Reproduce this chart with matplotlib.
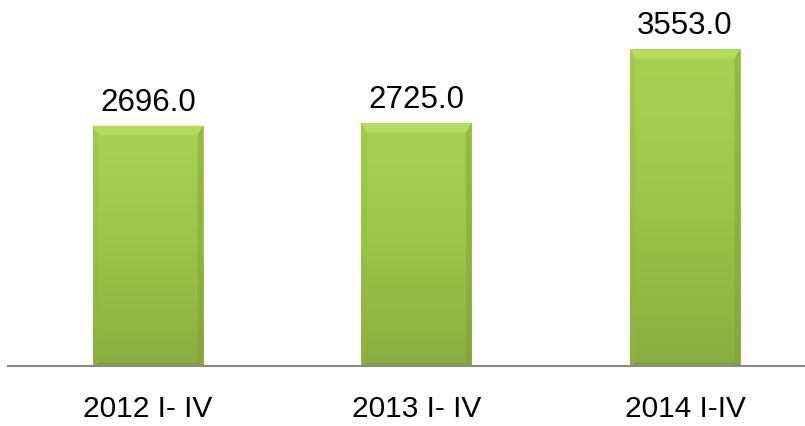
import numpy as np
import matplotlib
matplotlib.use("Agg")
import matplotlib.pyplot as plt
from matplotlib.colors import LinearSegmentedColormap
from matplotlib.patches import Polygon

# Data
categories = ["2012 I- IV", "2013 I- IV", "2014 I-IV"]
values = [2696.0, 2725.0, 3553.0]

plt.rcParams['font.family'] = ['Liberation Sans', 'DejaVu Sans']

fig = plt.figure(figsize=(8.05, 4.27), dpi=100)
ax = fig.add_axes([8 / 805, 60 / 427, 797 / 805, 367 / 427])

YMAX = 4118
x = np.arange(len(categories))
width = 0.41
bars = ax.bar(x, values, width=width, color="none", edgecolor="none", zorder=2)

# vertical gradient for the bar face
grad_cmap = LinearSegmentedColormap.from_list(
    "green", ["#a8d350", "#9cc54a", "#8cac40"])
grad = np.linspace(0, 1, 256).reshape(-1, 1)

for b in bars:
    x0, w, h = b.get_x(), b.get_width(), b.get_height()
    im = ax.imshow(grad, cmap=grad_cmap, aspect="auto",
                   extent=[x0, x0 + w, 0, h], origin="upper", zorder=2)
    im.set_clip_path(b)
    # bevel: light top strip, slightly darker sides and bottom
    bx = w * 0.05
    by = YMAX * 0.025
    ax.add_patch(Polygon([[x0, h], [x0 + w, h], [x0 + w - bx, h - by], [x0 + bx, h - by]],
                         closed=True, facecolor="#b6dc5e", edgecolor="none", zorder=3))
    ax.add_patch(Polygon([[x0 + w, h], [x0 + w, 0], [x0 + w - bx, by * 0.4], [x0 + w - bx, h - by]],
                         closed=True, facecolor="#7f9e32", edgecolor="none", alpha=0.45, zorder=3))
    ax.add_patch(Polygon([[x0, h], [x0, 0], [x0 + bx, by * 0.4], [x0 + bx, h - by]],
                         closed=True, facecolor="#93b642", edgecolor="none", alpha=0.3, zorder=3))
    ax.add_patch(Polygon([[x0, 0], [x0 + w, 0], [x0 + w - bx, by * 0.4], [x0 + bx, by * 0.4]],
                         closed=True, facecolor="#7a9630", edgecolor="none", alpha=0.5, zorder=3))
    ax.text(x0 + w / 2, h + YMAX * 0.044, f"{h:.1f}", ha="center", va="baseline",
            fontsize=22.5, color="black")

ax.set_xlim(-0.521, 2.447)
ax.set_ylim(0, YMAX)
ax.set_xticks(x)
ax.set_xticklabels(categories, fontsize=21.5)
ax.tick_params(axis="x", length=0, pad=20)
ax.set_yticks([])
for s in ["top", "right", "left"]:
    ax.spines[s].set_visible(False)
ax.spines["bottom"].set_color("#888888")
ax.spines["bottom"].set_linewidth(1.5)
ax.spines["bottom"].set_zorder(4)
ax.set_facecolor("white")

fig.savefig("out.png", dpi=100)
